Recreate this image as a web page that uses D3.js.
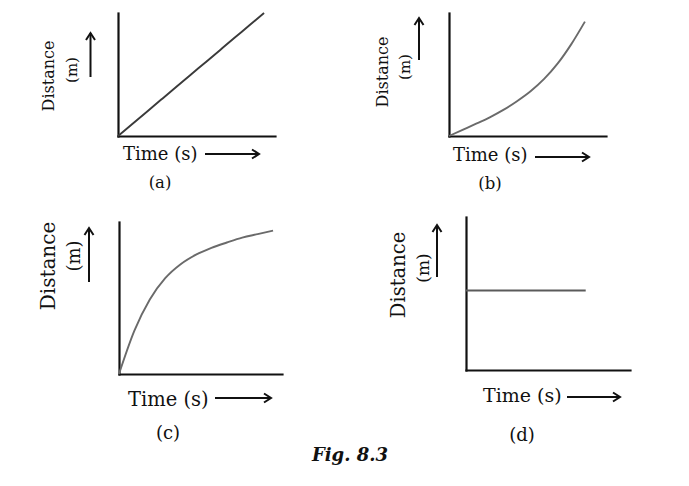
<!DOCTYPE html>
<html>
<head>
<meta charset="utf-8">
<script src="https://cdn.jsdelivr.net/npm/d3@7"></script>
<style>
  body { margin: 0; background: #fff; }
  text { font-family: "DejaVu Serif", "Liberation Serif", serif; fill: #111; }
</style>
</head>
<body>
<div id="wrapper"></div>
<script>
// data: distance at whole-second steps
const times = [0, 1, 2, 3, 4, 5, 6, 7, 8, 9, 10];
const distanceA = [0, 1, 2, 3, 4, 5, 6, 7, 8, 9, 10];
const distanceB = [0, 0.5, 1.0, 1.52, 2.12, 2.83, 3.64, 4.64, 5.9, 7.47, 9.3];
const distanceC = [0, 2.85, 4.9, 6.3, 7.22, 7.85, 8.3, 8.65, 8.97, 9.2, 9.43];
const timesD = [0, 10];
const distanceD = [5.2, 5.2];
const panelLabels = ["(a)", "(b)", "(c)", "(d)"];
const xLabel = "Time (s)";
const yLabel = "Distance";
const yUnit = "(m)";
const caption = "Fig. 8.3";

// step 1: layout of the four small graphs
const panels = [
  { t: times, d: distanceA, x0: 118, x1: 275, y0: 136, y1: 13, xMax: 10.75, yMax: 10,
    stroke: "#3a3a3a",
    yLab: [48, 76, 16], unit: [72, 70, 15], yArrow: [90.5, 77, 33],
    xLab: [123, 160, 18], xArrow: [205, 259, 154], tag: [160, 188, 16.5] },
  { t: times, d: distanceB, x0: 449, x1: 606, y0: 136, y1: 13, xMax: 11.55, yMax: 10,
    stroke: "#6a6a6a",
    yLab: [382, 72, 16], unit: [405, 67, 15], yArrow: [419, 60, 18],
    xLab: [453, 161, 18], xArrow: [535, 589, 157], tag: [490, 189, 16.5] },
  { t: times, d: distanceC, x0: 119, x1: 282, y0: 374, y1: 222, xMax: 10.58, yMax: 10,
    stroke: "#6a6a6a",
    yLab: [48, 266, 20], unit: [73, 256, 18], yArrow: [89, 282, 228],
    xLab: [128, 406, 19.5], xArrow: [215, 271, 398], tag: [168, 439, 18] },
  { t: timesD, d: distanceD, x0: 466, x1: 630, y0: 370, y1: 217, xMax: 13.7, yMax: 10,
    stroke: "#5a5a5a",
    yLab: [398, 275, 19.5], unit: [423, 268, 17], yArrow: [437, 277, 225],
    xLab: [483, 402, 19], xArrow: [567, 620, 397], tag: [522, 441, 18] },
];

// step 2: draw canvas
const svg = d3.select("#wrapper")
  .append("svg")
  .attr("width", 689)
  .attr("height", 486);

svg.append("rect")
  .attr("width", 689)
  .attr("height", 486)
  .attr("fill", "#fff");

// open chevron arrowhead
svg.append("defs")
  .append("marker")
  .attr("id", "arrow")
  .attr("markerUnits", "userSpaceOnUse")
  .attr("viewBox", "0 0 12 12")
  .attr("refX", 10)
  .attr("refY", 6)
  .attr("markerWidth", 12)
  .attr("markerHeight", 12)
  .attr("orient", "auto")
  .append("path")
  .attr("d", "M3,1.5 L10,6 L3,10.5")
  .attr("fill", "none")
  .attr("stroke", "#111")
  .attr("stroke-width", 2);

panels.forEach((p, i) => {
  const g = svg.append("g");

  // step 3: scales
  const xScale = d3.scaleLinear()
    .domain([0, p.xMax])
    .range([p.x0, p.x1]);
  const yScale = d3.scaleLinear()
    .domain([0, p.yMax])
    .range([p.y0, p.y1]);

  // step 4: axes, no ticks
  g.append("g")
    .attr("transform", `translate(0, ${p.y0})`)
    .call(d3.axisBottom(xScale).tickValues([]).tickSizeOuter(0));
  g.append("g")
    .attr("transform", `translate(${p.x0}, 0)`)
    .call(d3.axisLeft(yScale).tickValues([]).tickSizeOuter(0));
  g.selectAll(".domain")
    .attr("stroke", "#111")
    .attr("stroke-width", 2.2)
    .attr("stroke-linecap", "square");

  // step 5: the curve
  const line = d3.line()
    .x((d, k) => xScale(p.t[k]))
    .y(d => yScale(d))
    .curve(d3.curveMonotoneX);
  g.append("path")
    .datum(p.d)
    .attr("d", line)
    .attr("fill", "none")
    .attr("stroke", p.stroke)
    .attr("stroke-width", 1.9);

  // step 6: labels and arrows
  g.append("text")
    .attr("transform", `translate(${p.yLab[0]}, ${p.yLab[1]}) rotate(-90)`)
    .attr("text-anchor", "middle")
    .attr("dominant-baseline", "central")
    .style("font-size", p.yLab[2] + "px")
    .text(yLabel);
  g.append("text")
    .attr("transform", `translate(${p.unit[0]}, ${p.unit[1]}) rotate(-90)`)
    .attr("text-anchor", "middle")
    .attr("dominant-baseline", "central")
    .style("font-size", p.unit[2] + "px")
    .text(yUnit);
  g.append("line")
    .attr("x1", p.yArrow[0]).attr("x2", p.yArrow[0])
    .attr("y1", p.yArrow[1]).attr("y2", p.yArrow[2])
    .attr("stroke", "#111")
    .attr("stroke-width", 2)
    .attr("marker-end", "url(#arrow)");

  g.append("text")
    .attr("x", p.xLab[0])
    .attr("y", p.xLab[1])
    .style("font-size", p.xLab[2] + "px")
    .text(xLabel);
  g.append("line")
    .attr("x1", p.xArrow[0]).attr("x2", p.xArrow[1])
    .attr("y1", p.xArrow[2]).attr("y2", p.xArrow[2])
    .attr("stroke", "#111")
    .attr("stroke-width", 2)
    .attr("marker-end", "url(#arrow)");

  g.append("text")
    .attr("x", p.tag[0])
    .attr("y", p.tag[1])
    .attr("text-anchor", "middle")
    .style("font-size", p.tag[2] + "px")
    .text(panelLabels[i]);
});

svg.append("text")
  .attr("x", 312)
  .attr("y", 461)
  .style("font-size", "18px")
  .style("font-weight", "bold")
  .style("font-style", "italic")
  .text(caption);
</script>
</body>
</html>
